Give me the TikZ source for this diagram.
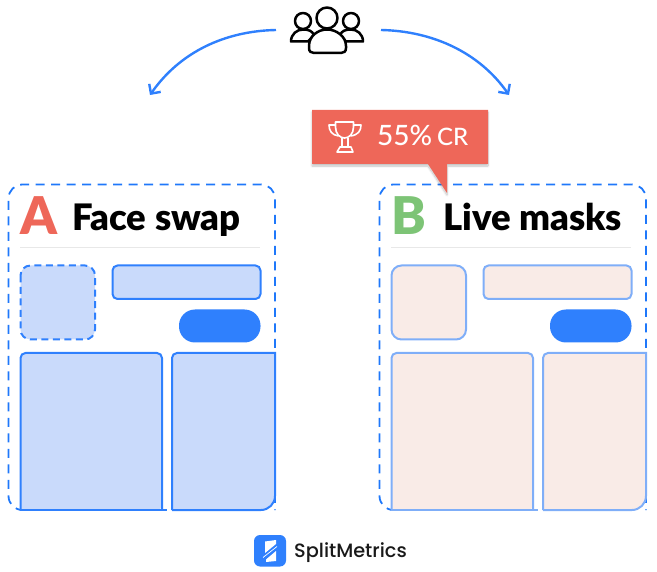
\documentclass[tikz,border=0pt]{standalone}
\usepackage{fontspec}
\setmainfont{Lato}[BoldFont={Lato Black}]
\newfontfamily\medfont{Lato Medium}
\newfontfamily\logofont{Poppins Medium}
\usetikzlibrary{arrows.meta,shadows.blur}
\definecolor{bl}{HTML}{2F80FD}
\definecolor{frm}{HTML}{1F78FA}
\definecolor{blpale}{HTML}{7FAEF8}
\definecolor{bfill}{HTML}{C9DAFB}
\definecolor{pfill}{HTML}{F9EBE7}
\definecolor{coral}{HTML}{EE6759}
\definecolor{grn}{HTML}{7DC476}
\definecolor{rul}{HTML}{E8E8E8}
\tikzset{
  x=1pt,y=-1pt,
  frame/.style={draw=frm,line width=1.8pt,dash pattern=on 9pt off 6.5pt},
  cardA/.style={draw=bl,fill=bfill,line width=2pt},
  cardB/.style={draw=blpale,fill=pfill,line width=2pt},
  pill/.style={fill=bl,rounded corners=16pt},
  rulel/.style={draw=rul,line width=1pt},
  flow/.style={draw=bl,line width=2.4pt,-{Straight Barb[length=7pt,width=14pt,line width=2.4pt]}},
  icon/.style={draw=black,line width=2.5pt,fill=white,line join=round},
  troph/.style={draw=white,line width=1.6pt,line join=round},
  title/.style={font=\fontsize{36.5}{36.5}\selectfont\bfseries,text=black,anchor=base west,inner sep=0pt},
  letter/.style={font=\fontsize{52}{52}\selectfont\bfseries,anchor=base west,inner sep=0pt},
  crlab/.style={font=\medfont\fontsize{28}{28}\selectfont,text=white,anchor=base west,inner sep=0pt}
}
\newcommand{\screen}[4]{%
  \begin{scope}[xshift=#1]
    \draw[frame,rounded corners=14pt] (20.5,510) -- (8.5,510) -- (8.5,184.5) -- (275,184.5) -- (275,510);
    \draw[rulel] (20,248) -- (260,248);
    \draw[#2,#3,rounded corners=10pt] (20.5,265.5) rectangle (95,339.5);
    \draw[#2,rounded corners=5pt] (112.5,265.5) rectangle (260.5,299);
    \fill[pill] (179,309.5) rectangle (260.5,342.5);
    \path[fill=#4,rounded corners=5pt] (20.5,510) -- (20.5,353) -- (162,353) -- (162,510) [sharp corners] -- cycle;
    \draw[#2,fill=none,rounded corners=5pt] (20.5,510) -- (20.5,353) -- (162,353) -- (162,510);
    \draw[#2,fill=none] (19.5,510) -- (167,510);
    \path[fill=#4] (172,510) [rounded corners=5pt] -- (172,353) [sharp corners] -- (275,353) [rounded corners=14pt] -- (275,510) [sharp corners] -- cycle;
    \draw[#2,fill=none] (172,510) [rounded corners=5pt] -- (172,353) [sharp corners] -- (275,353) [rounded corners=14pt] -- (275,510) [sharp corners] -- (172,510);
  \end{scope}}
\begin{document}
\begin{tikzpicture}
\useasboundingbox (0,0) rectangle (657,572);
% people icon
\coordinate (usersL) at (276,30);
\coordinate (usersR) at (381,30);
\coordinate (armA) at (150,95);
\coordinate (armB) at (509,95);
\draw[icon] (291,41.5) .. controls (291,34) and (297,29.5) .. (303,29.5) .. controls (309,29.5) and (312,31) .. (314,35) -- (308,41.5) -- cycle;
\draw[icon] (363,41.5) .. controls (363,34) and (357,29.5) .. (351,29.5) .. controls (345,29.5) and (342,31) .. (340,35) -- (346,41.5) -- cycle;
\draw[icon] (303,21) circle[radius=8];
\draw[icon] (351,21) circle[radius=8];
\draw[icon] (309,46) .. controls (309,36) and (318,29.5) .. (327,29.5) .. controls (336,29.5) and (346,36) .. (346,46) -- (346,48) .. controls (346,51.5) and (344,53) .. (341,53) -- (314,53) .. controls (311,53) and (309,51.5) .. (309,48) -- cycle;
\draw[icon] (327,18) circle[radius=10.5];
\node[inner sep=0pt,minimum size=0pt] (users) at (327,30) {};
% arrows
\draw[flow] (usersL) .. controls (225,31) and (180,52) .. (armA);
\draw[flow] (usersR) .. controls (432,31) and (479,52) .. (armB);
% screens
\screen{0pt}{cardA}{dash pattern=on 7pt off 4.5pt}{bfill}
\screen{371pt}{cardB}{solid}{pfill}
% titles
\node[letter,text=coral] (letA) at (20.5,235) {A};
\node[title] (ttlA) at (72,230.5) {Face swap};
\node[letter,text=grn] (letB) at (391,235) {B};
\node[title] (ttlB) at (443,230.5) {Live masks};
% callout
\path[fill=coral,blur shadow={shadow blur steps=8,shadow xshift=0pt,shadow yshift=-2pt,shadow opacity=25}]
  (312,110) -- (488,110) -- (488,164) -- (447,164) -- (447,193) -- (428,164) -- (312,164) -- cycle;
\node[crlab] (pct) at (377,146) {55\%};
\node[crlab,font=\medfont\fontsize{24}{24}\selectfont] (cr) at (437,146) {CR};
% trophy
\draw[troph] (335.5,122) -- (353.5,122) -- (353.5,127) .. controls (353.5,134) and (349,138) .. (344.5,138) .. controls (340,138) and (335.5,134) .. (335.5,127) -- cycle;
\draw[troph] (335.5,125) -- (329,125) .. controls (329,131) and (332,135) .. (338.5,136);
\draw[troph] (353.5,125) -- (361,125) .. controls (361,131) and (358,135) .. (350.5,136);
\draw[troph] (342,138) -- (342,147) (348,138) -- (348,147);
\draw[troph] (340,147) -- (351,147) -- (353,152) -- (337,152) -- cycle;
% logo
\fill[bl,rounded corners=6pt] (254,535) rectangle (286,566.5);
\fill[white] (265,541.5) -- (276,540) -- (276,544) -- (265,553) -- cycle;
\fill[white] (276,551) -- (276,561) -- (266,562) -- (266,559.5) -- cycle;
\draw[white,line width=.7pt] (263,557.5) -- (277,546.5);
\node[anchor=base west,inner sep=0pt,font=\logofont\fontsize{19.3}{19.3}\selectfont,text=black!90] (brand) at (294,558) {SplitMetrics};
\end{tikzpicture}
\end{document}
